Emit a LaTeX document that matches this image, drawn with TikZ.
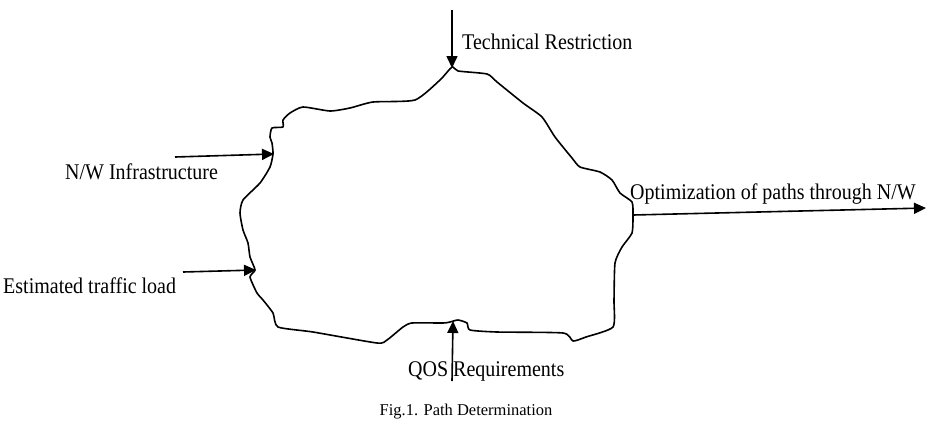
\documentclass[tikz,border=0pt]{standalone}
\usepackage{graphicx}
\usepackage{fontspec}
\setmainfont{Liberation Serif}
\usetikzlibrary{arrows.meta}
\newcommand{\tallt}[1]{\scalebox{1}[1.12]{#1}}
\tikzset{
  blobline/.style={line width=1.6pt, line join=round},
  inarrow/.style={line width=1.6pt, -{Triangle[length=12pt,width=11pt]}},
  lbl/.style={inner sep=0pt, font=\fontsize{20}{24}\selectfont},
  captext/.style={inner sep=0pt, font=\fontsize{16.5}{20}\selectfont}
}
\begin{document}
\begin{tikzpicture}[x=1pt,y=-1pt]
\useasboundingbox (0,0) rectangle (932,426);
% blob outline
\draw[blobline] plot[smooth cycle, tension=0.35] coordinates {
(452,67) (458,71) (487,74) (497,82) (523,103) (542,117) (555,137) (572,158)
(580,167) (600,172) (612,180) (620,193) (632,202) (633,215) (632,233) (622,247)
(615,263) (614,300) (613,327) (586,337) (573,341) (563,333) (497,332) (470,330)
(467,323) (458,320) (450,322) (443,323) (412,323) (403,327) (387,340) (377,343)
(313,332) (278,327) (273,313) (263,300) (257,293) (250,277) (255,270) (250,257)
(248,243) (243,230) (240,213) (243,200) (260,183) (270,167) (273,154) (272,143)
(270,137) (272,128) (283,127) (283,120) (290,113) (303,107) (330,111) (350,108)
(373,102) (415,100) (440,80)};
% contact points on the outline
\coordinate (top) at (452,68);
\coordinate (nw) at (274,154);
\coordinate (est) at (256,270);
\coordinate (qos) at (453,321);
\coordinate (opt) at (633,215);
% free ends
\coordinate (topS) at (452,10);
\coordinate (nwS) at (175,157);
\coordinate (estS) at (183,272);
\coordinate (qosS) at (452,381);
\coordinate (optE) at (926,208);
% arrows
\draw[inarrow] (topS) -- (top);
\draw[inarrow] (nwS) -- (nw);
\draw[inarrow] (estS) -- (est);
\draw[inarrow] (qosS) -- (qos);
\draw[inarrow] (opt) -- (optE);
% labels
\node[lbl, anchor=west] (tTech) at (462,42) {\tallt{Technical Restriction}};
\node[lbl, anchor=west] (tNW) at (65,172) {\tallt{N/W Infrastructure}};
\node[lbl, anchor=west] (tEst) at (3,286) {\tallt{Estimated traffic load}};
\node[lbl, anchor=west] (tQos) at (408,371) {\tallt{QOS Requirements}};
\node[lbl, anchor=west] (tOpt) at (630,194) {\tallt{Optimization of paths through N/W}};
\node[captext] (tCap) at (466,412) {Fig.1. Path Determination};
\end{tikzpicture}
\end{document}
